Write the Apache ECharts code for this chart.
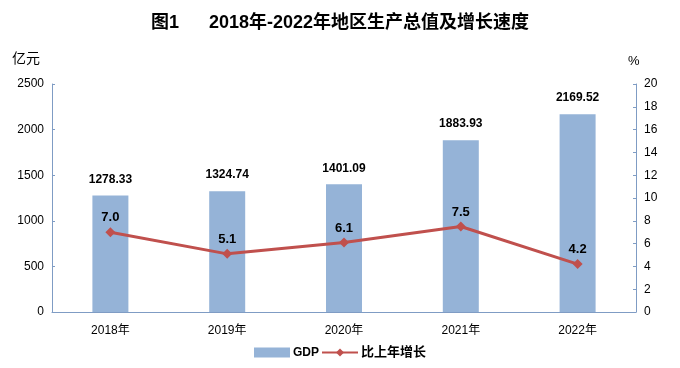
<!DOCTYPE html>
<html><head><meta charset="utf-8">
<script src="https://cdn.jsdelivr.net/npm/echarts@6/dist/echarts.min.js"></script>
<style>html,body{margin:0;padding:0;background:#fff}#c{width:680px;height:368px}</style>
</head><body><div id="c"></div>
<script>
const categories = ['2018年','2019年','2020年','2021年','2022年'];
const gdp = [1278.33, 1324.74, 1401.09, 1883.93, 2169.52];
const growth = [7.0, 5.1, 6.1, 7.5, 4.2];
const leftTicks = [0, 2500, 500];
const rightTicks = [0, 20, 2];

const font = '"Liberation Sans","Noto Sans CJK SC",sans-serif';
const axisColor = '#7f9cc4';
const chart = echarts.init(document.getElementById('c'), null, {renderer:'canvas'});
chart.setOption({
  animation: false,
  textStyle: {fontFamily: font},
  title: {
    text: '图1      2018年-2022年地区生产总值及增长速度',
    left: 'center', top: 9,
    textStyle: {fontSize: 18, fontWeight: 'bold', color: '#000', fontFamily: font}
  },
  legend: {
    bottom: 4, left: 'center', itemGap: 2,
    itemWidth: 36, itemHeight: 10,
    textStyle: {fontSize: 12, color: '#000', fontWeight: 'bold', fontFamily: font, padding: [0, 0, 0, -2]},
    data: [{name: 'GDP', icon: 'rect'}, {name: '比上年增长', textStyle: {fontSize: 13}}]
  },
  grid: {left: 52, right: 44, top: 84, bottom: 56},
  xAxis: {
    type: 'category', data: categories,
    axisLine: {lineStyle: {color: axisColor}},
    axisTick: {show: false},
    axisLabel: {color: '#000', fontSize: 12, margin: 13}
  },
  yAxis: [{
    type: 'value', min: leftTicks[0], max: leftTicks[1], interval: leftTicks[2],
    name: '亿元', nameLocation: 'end', nameGap: 18,
    nameTextStyle: {color: '#000', fontSize: 14, align: 'right', padding: [0, 12, 0, 0]},
    axisLine: {show: true, lineStyle: {color: axisColor}},
    axisTick: {show: true, inside: true, length: 3, lineStyle: {color: axisColor}},
    splitLine: {show: false},
    axisLabel: {color: '#000', fontSize: 12, margin: 8, formatter: v => String(v)}
  }, {
    type: 'value', min: rightTicks[0], max: rightTicks[1], interval: rightTicks[2],
    name: '%', nameLocation: 'end', nameGap: 16,
    nameTextStyle: {color: '#000', fontSize: 13, align: 'left', padding: [0, 0, 0, -8]},
    axisLine: {show: true, lineStyle: {color: axisColor}},
    axisTick: {show: true, inside: true, length: 3, lineStyle: {color: axisColor}},
    splitLine: {show: false},
    axisLabel: {color: '#000', fontSize: 12, margin: 8}
  }],
  series: [{
    name: 'GDP', type: 'bar', data: gdp, barWidth: 36,
    itemStyle: {color: '#95b3d7'},
    label: {show: true, position: 'top', distance: 10, fontWeight: 'bold', fontSize: 12, color: '#000',
      formatter: p => p.value.toFixed(2)}
  }, {
    name: '比上年增长', type: 'line', yAxisIndex: 1, data: growth,
    symbol: 'diamond', symbolSize: 10,
    lineStyle: {color: '#c0504d', width: 3},
    itemStyle: {color: '#c0504d'},
    label: {show: true, position: 'top', distance: 3, fontWeight: 'bold', fontSize: 13, color: '#000',
      formatter: p => p.value.toFixed(1)}
  }]
});
</script></body></html>
